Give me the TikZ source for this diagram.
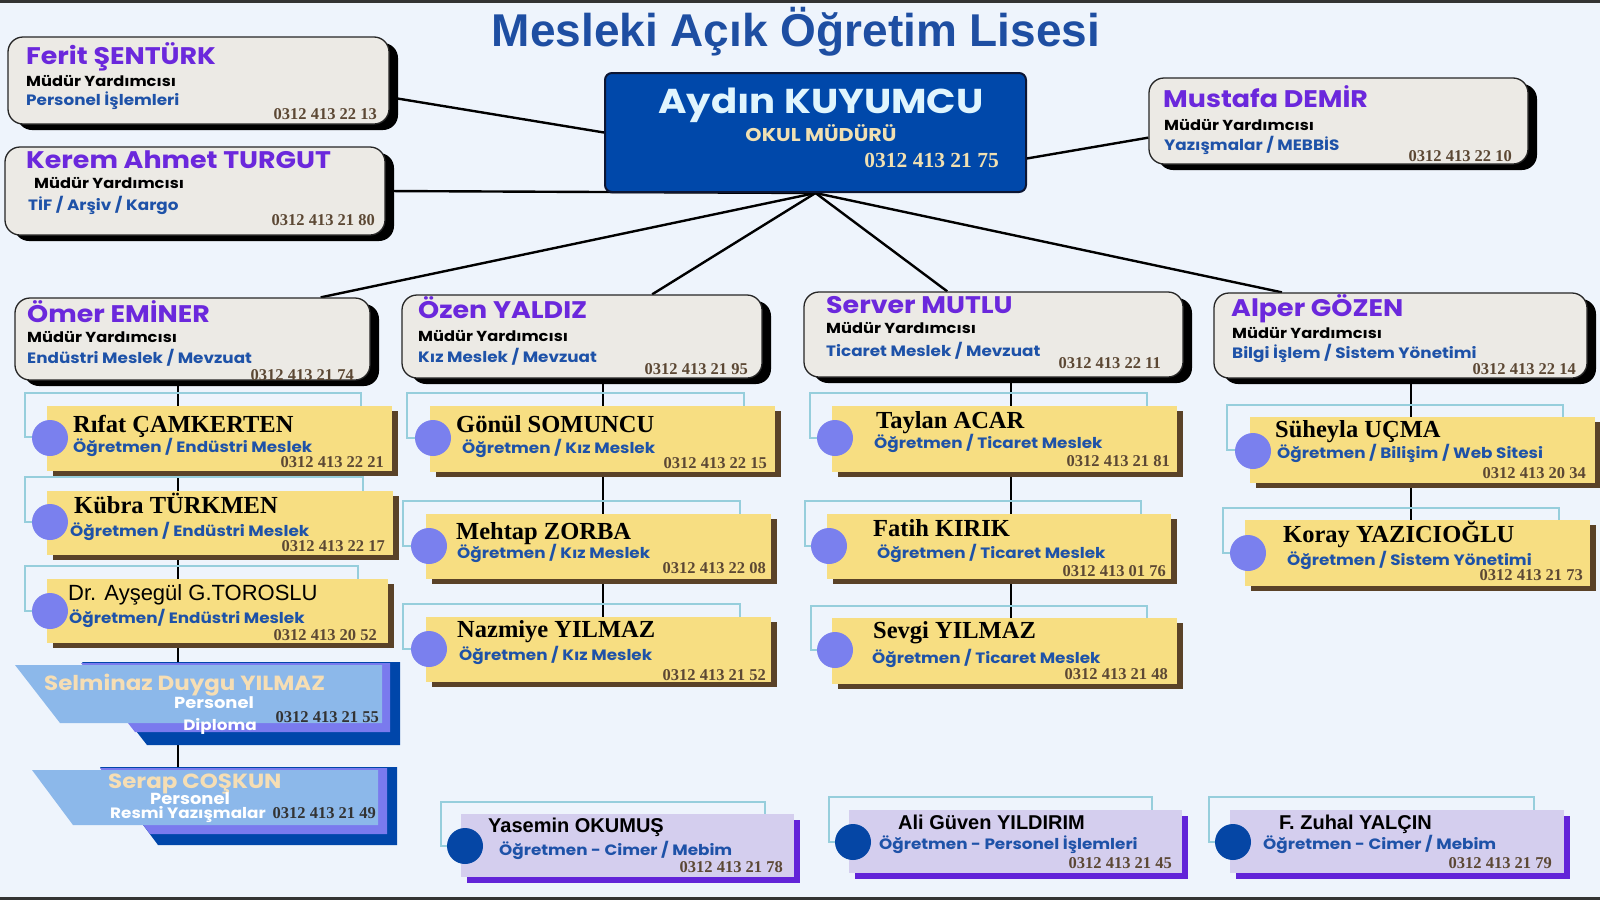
\documentclass[tikz,border=0pt]{standalone}
\usepackage{fontspec}
\setmainfont{Liberation Serif}
\newfontfamily\mont{Poppins}[FakeStretch=1.12]
\newfontfamily\arial{Liberation Sans}
\usetikzlibrary{shadows,calc}
\definecolor{bgblue}{RGB}{238,244,252}
\definecolor{titleblue}{RGB}{30,78,162}
\definecolor{namepurple}{RGB}{107,40,220}
\definecolor{taskblue}{RGB}{30,82,168}
\definecolor{phonebrown}{RGB}{92,72,52}
\definecolor{mgrgray}{RGB}{236,234,229}
\definecolor{principalblue}{RGB}{0,72,170}
\definecolor{principalline}{RGB}{12,22,52}
\definecolor{beige}{RGB}{240,224,178}
\definecolor{teachyellow}{RGB}{247,222,130}
\definecolor{teachshadow}{RGB}{90,66,40}
\definecolor{dotblue}{RGB}{122,128,238}
\definecolor{bracketcyan}{RGB}{150,206,220}
\definecolor{lightsky}{RGB}{140,184,234}
\definecolor{midpurple}{RGB}{122,122,238}
\definecolor{deepblue}{RGB}{0,70,170}
\definecolor{wheat}{RGB}{246,222,180}
\definecolor{lavender}{RGB}{212,206,238}
\definecolor{extrashadow}{RGB}{98,36,216}
\definecolor{darkdot}{RGB}{5,70,165}
\pgfdeclarelayer{back}
\pgfdeclarelayer{bg}
\pgfsetlayers{back,bg,main}

\begin{document}
\begin{tikzpicture}[x=1pt,y=-1pt,
  mgr/.style={draw=black!85, line width=1.3pt, fill=mgrgray, rounded corners=15pt, inner sep=0pt,
    drop shadow={shadow xshift=9pt, shadow yshift=-6pt, fill=black, opacity=1}},
  teach/.style={fill=teachyellow, inner sep=0pt,
    drop shadow={shadow xshift=6pt, shadow yshift=-5pt, fill=teachshadow, opacity=1}},
  extrabox/.style={fill=lavender, inner sep=0pt,
    drop shadow={shadow xshift=6pt, shadow yshift=-6pt, fill=extrashadow, opacity=1}},
  tdot/.style={circle, fill=dotblue, minimum size=36pt, inner sep=0pt},
  edot/.style={circle, fill=darkdot, minimum size=36pt, inner sep=0pt},
  bracket/.style={draw=bracketcyan, line width=1.1pt},
  trunk/.style={draw=black, line width=2.6pt},
  link/.style={draw=black, line width=2.4pt},
  mname/.style={anchor=base west, inner sep=0pt, font=\mont\bfseries\fontsize{24}{24}\selectfont, text=namepurple},
  mrole/.style={anchor=base west, inner sep=0pt, font=\mont\bfseries\fontsize{14.5}{15}\selectfont, text=black},
  mtask/.style={anchor=base west, inner sep=0pt, font=\mont\bfseries\fontsize{15}{15}\selectfont, text=taskblue},
  phone/.style={anchor=base east, inner sep=0pt, font=\bfseries\fontsize{16.5}{17}\selectfont, text=phonebrown},
  tname/.style={anchor=base west, inner sep=0pt, font=\bfseries\fontsize{24.5}{25}\selectfont, text=black},
  sname/.style={anchor=base west, inner sep=0pt, font=\arial\fontsize{22}{22}\selectfont, text=black},
  bname/.style={anchor=base west, inner sep=0pt, font=\arial\bfseries\fontsize{20}{20}\selectfont, text=black},
  staff/.style={inner sep=0pt, font=\mont\bfseries\fontsize{16}{16}\selectfont, text=white}]

  % Page
  \useasboundingbox (0,0) rectangle (1600,900);
  \begin{pgfonlayer}{back}
    \fill[bgblue] (0,0) rectangle (1600,900);
    \fill[black!80] (0,0) rectangle (1600,2.5);
    \fill[black!80] (0,897) rectangle (1600,900);
  \end{pgfonlayer}

  % Title
  \node[anchor=base, inner sep=0pt, font=\arial\bfseries\fontsize{46}{46}\selectfont, text=titleblue] (title) at (796,46) {Mesleki Açık Öğretim Lisesi};

  % Principal
  \node[draw=principalline, line width=2pt, fill=principalblue, rounded corners=7pt, minimum width=421, minimum height=119] (aydin) at (815.5,132.5) {};
  \node[anchor=base, inner sep=0pt, font=\mont\bfseries\fontsize{34.5}{35}\selectfont, text=white!88!cyan] (aydin-n) at (821,113) {Aydın KUYUMCU};
  \node[anchor=base, inner sep=0pt, font=\mont\bfseries\fontsize{18.5}{19}\selectfont, text=beige] (aydin-r) at (821,141) {OKUL MÜDÜRÜ};
  \node[phone, font=\bfseries\fontsize{21.5}{22}\selectfont, text=beige] (aydin-p) at (999,167) {0312 413 21 75};

  % Vice principals
  \node[mgr, minimum width=381, minimum height=87] (ferit) at (198.5,80.5) {};
  \node[mname] (ferit-n) at (26,64) {Ferit ŞENTÜRK};
  \node[mrole] (ferit-r) at (26,86) {Müdür Yardımcısı};
  \node[mtask] (ferit-t) at (26,105) {Personel İşlemleri};
  \node[phone] (ferit-p) at (377,119.5) {0312 413 22 13};

  \node[mgr, minimum width=380, minimum height=88] (kerem) at (195,191) {};
  \node[mname] (kerem-n) at (26,168) {Kerem Ahmet TURGUT};
  \node[mrole] (kerem-r) at (34,188) {Müdür Yardımcısı};
  \node[mtask] (kerem-t) at (28,210) {TİF / Arşiv / Kargo};
  \node[phone] (kerem-p) at (375,225.5) {0312 413 21 80};

  \node[mgr, minimum width=379, minimum height=86] (mustafa) at (1338.5,121) {};
  \node[mname] (mustafa-n) at (1163,107) {Mustafa DEMİR};
  \node[mrole] (mustafa-r) at (1164,130) {Müdür Yardımcısı};
  \node[mtask] (mustafa-t) at (1164,150) {Yazışmalar / MEBBİS};
  \node[phone] (mustafa-p) at (1512,161.5) {0312 413 22 10};

  \node[mgr, minimum width=355, minimum height=82] (omer) at (192.5,339) {};
  \node[mname] (omer-n) at (27,322) {Ömer EMİNER};
  \node[mrole] (omer-r) at (27,342) {Müdür Yardımcısı};
  \node[mtask] (omer-t) at (27,363) {Endüstri Meslek / Mevzuat};
  \node[phone] (omer-p) at (354,380.5) {0312 413 21 74};

  \node[mgr, minimum width=360, minimum height=83] (ozen) at (582,336.5) {};
  \node[mname] (ozen-n) at (418,318) {Özen YALDIZ};
  \node[mrole] (ozen-r) at (418,341) {Müdür Yardımcısı};
  \node[mtask] (ozen-t) at (418,362) {Kız Meslek / Mevzuat};
  \node[phone] (ozen-p) at (748,374.5) {0312 413 21 95};

  \node[mgr, minimum width=379, minimum height=85] (server) at (993.5,334.5) {};
  \node[mname] (server-n) at (826,313) {Server MUTLU};
  \node[mrole] (server-r) at (826,333) {Müdür Yardımcısı};
  \node[mtask] (server-t) at (826,356) {Ticaret Meslek / Mevzuat};
  \node[phone] (server-p) at (1161,368.5) {0312 413 22 11};

  \node[mgr, minimum width=373, minimum height=85] (alper) at (1400.5,335.5) {};
  \node[mname] (alper-n) at (1231,316) {Alper GÖZEN};
  \node[mrole] (alper-r) at (1232,338) {Müdür Yardımcısı};
  \node[mtask] (alper-t) at (1232,358) {Bilgi İşlem / Sistem Yönetimi};
  \node[phone] (alper-p) at (1576,374.5) {0312 413 22 14};

  % Brackets behind the teachers
  \draw[bracket] (25,393) rectangle (361,437);
  \draw[bracket] (25,477) rectangle (363,522);
  \draw[bracket] (25,566) rectangle (358,611);
  \draw[bracket] (407,393) rectangle (744,438);
  \draw[bracket] (403,501) rectangle (740,546);
  \draw[bracket] (403,604) rectangle (740,649);
  \draw[bracket] (810,393) rectangle (1147,438);
  \draw[bracket] (805,501) rectangle (1141,546);
  \draw[bracket] (811,606) rectangle (1147,650);
  \draw[bracket] (1227,405) rectangle (1563,450);
  \draw[bracket] (1223,508) rectangle (1559,553);
  \draw[bracket] (441,802) rectangle (765,846);
  \draw[bracket] (829,797) rectangle (1152,842);
  \draw[bracket] (1209,797) rectangle (1534,842);

  % Endustri column
  \node[teach, minimum width=345, minimum height=65] (rifat) at (219.5,438.5) {};
  \node[tdot] (rifat-d) at (50,438) {};
  \node[tname] (rifat-n) at (73,432) {Rıfat ÇAMKERTEN};
  \node[mtask] (rifat-t) at (73,452) {Öğretmen / Endüstri Meslek};
  \node[phone] (rifat-p) at (384,467.5) {0312 413 22 21};

  \node[teach, minimum width=346, minimum height=64] (kubra) at (220,523) {};
  \node[tdot] (kubra-d) at (50,522) {};
  \node[tname] (kubra-n) at (74,513) {Kübra TÜRKMEN};
  \node[mtask] (kubra-t) at (70,536) {Öğretmen / Endüstri Meslek};
  \node[phone] (kubra-p) at (385,551.5) {0312 413 22 17};

  \node[teach, minimum width=341, minimum height=64] (aysegul) at (217.5,611) {};
  \node[tdot] (aysegul-d) at (50,611) {};
  \node[sname] (aysegul-n) at (68,600) {Dr. Ayşegül G.TOROSLU};
  \node[mtask] (aysegul-t) at (69,623) {Öğretmen/ Endüstri Meslek};
  \node[phone] (aysegul-p) at (377,640.5) {0312 413 20 52};

  % Personel staff
  \fill[deepblue] (82,662) -- (400,662) -- (400,745) -- (147,745) -- cycle;
  \fill[midpurple] (81,663) -- (390,663) -- (390,732) -- (135,732) -- cycle;
  \fill[lightsky] (15,665) -- (382,665) -- (382,723) -- (60,723) -- cycle;
  \node[staff, anchor=base west, font=\mont\bfseries\fontsize{20.5}{21}\selectfont, text=wheat] (selminaz-n) at (44,690.5) {Selminaz Duygu YILMAZ};
  \node[staff, anchor=base] (selminaz-r) at (214,708) {Personel};
  \node[staff, anchor=base, font=\mont\bfseries\fontsize{15}{15}\selectfont] (selminaz-t) at (220,730) {Diploma};
  \node[phone, text=black!80] (selminaz-p) at (379,722.5) {0312 413 21 55};

  \fill[deepblue] (100,767) -- (397,767) -- (397,845) -- (158,845) -- cycle;
  \fill[midpurple] (100,768) -- (387,768) -- (387,834) -- (150,834) -- cycle;
  \fill[lightsky] (32,770) -- (378,770) -- (378,825) -- (73,825) -- cycle;
  \coordinate (serap) at (178,770);
  \node[staff, anchor=base west, font=\mont\bfseries\fontsize{20.5}{21}\selectfont, text=wheat] (serap-n) at (108,788) {Serap COŞKUN};
  \node[staff, anchor=base] (serap-r) at (190,804.5) {Personel};
  \node[staff, anchor=base west, font=\mont\bfseries\fontsize{15}{15}\selectfont] (serap-t) at (110,818.5) {Resmi Yazışmalar};
  \node[phone, text=black!80] (serap-p) at (376,818.5) {0312 413 21 49};

  % Kiz column
  \node[teach, minimum width=345, minimum height=66] (gonul) at (602.5,439) {};
  \node[tdot] (gonul-d) at (433,438) {};
  \node[tname] (gonul-n) at (456,432) {Gönül SOMUNCU};
  \node[mtask] (gonul-t) at (462,453) {Öğretmen / Kız Meslek};
  \node[phone] (gonul-p) at (767,468.5) {0312 413 22 15};

  \node[teach, minimum width=345, minimum height=65] (mehtap) at (598.5,546.5) {};
  \node[tdot] (mehtap-d) at (429,546) {};
  \node[tname] (mehtap-n) at (456,539) {Mehtap ZORBA};
  \node[mtask] (mehtap-t) at (457,558) {Öğretmen / Kız Meslek};
  \node[phone] (mehtap-p) at (766,573.5) {0312 413 22 08};

  \node[teach, minimum width=345, minimum height=65] (nazmiye) at (598.5,649.5) {};
  \node[tdot] (nazmiye-d) at (429,649) {};
  \node[tname] (nazmiye-n) at (457,637) {Nazmiye YILMAZ};
  \node[mtask] (nazmiye-t) at (459,660) {Öğretmen / Kız Meslek};
  \node[phone] (nazmiye-p) at (766,680.5) {0312 413 21 52};

  % Ticaret column
  \node[teach, minimum width=345, minimum height=66] (taylan) at (1004.5,439) {};
  \node[tdot] (taylan-d) at (835,438) {};
  \node[tname] (taylan-n) at (876,428) {Taylan ACAR};
  \node[mtask] (taylan-t) at (874,448) {Öğretmen / Ticaret Meslek};
  \node[phone] (taylan-p) at (1170,466.5) {0312 413 21 81};

  \node[teach, minimum width=344, minimum height=65] (fatih) at (999,546.5) {};
  \node[tdot] (fatih-d) at (829,546) {};
  \node[tname] (fatih-n) at (873,536) {Fatih KIRIK};
  \node[mtask] (fatih-t) at (877,558) {Öğretmen / Ticaret Meslek};
  \node[phone] (fatih-p) at (1166,576.5) {0312 413 01 76};

  \node[teach, minimum width=345, minimum height=66] (sevgi) at (1004.5,651) {};
  \node[tdot] (sevgi-d) at (835,650) {};
  \node[tname] (sevgi-n) at (873,638) {Sevgi YILMAZ};
  \node[mtask] (sevgi-t) at (872,663) {Öğretmen / Ticaret Meslek};
  \node[phone] (sevgi-p) at (1168,679.5) {0312 413 21 48};

  % Bilisim column
  \node[teach, minimum width=345, minimum height=66] (suheyla) at (1422.5,450) {};
  \node[tdot] (suheyla-d) at (1253,451) {};
  \node[tname] (suheyla-n) at (1275,437) {Süheyla UÇMA};
  \node[mtask] (suheyla-t) at (1277,458) {Öğretmen / Bilişim / Web Sitesi};
  \node[phone] (suheyla-p) at (1586,478.5) {0312 413 20 34};

  \node[teach, minimum width=345, minimum height=66] (koray) at (1417.5,553) {};
  \node[tdot] (koray-d) at (1248,553) {};
  \node[tname] (koray-n) at (1283,542) {Koray YAZICIOĞLU};
  \node[mtask] (koray-t) at (1287,565) {Öğretmen / Sistem Yönetimi};
  \node[phone] (koray-p) at (1583,580.5) {0312 413 21 73};

  % Bottom row
  \node[extrabox, minimum width=333, minimum height=63] (yasemin) at (627.5,845.5) {};
  \node[edot] (yasemin-d) at (465,846) {};
  \node[bname] (yasemin-n) at (488,832) {Yasemin OKUMUŞ};
  \node[mtask] (yasemin-t) at (499,855) {Öğretmen - Cimer / Mebim};
  \node[phone] (yasemin-p) at (783,872.5) {0312 413 21 78};

  \node[extrabox, minimum width=333, minimum height=63] (ali) at (1015.5,841.5) {};
  \node[edot] (ali-d) at (853,842) {};
  \node[bname] (ali-n) at (898,829) {Ali Güven YILDIRIM};
  \node[mtask] (ali-t) at (879,849) {Öğretmen - Personel İşlemleri};
  \node[phone] (ali-p) at (1172,868.5) {0312 413 21 45};

  \node[extrabox, minimum width=334, minimum height=63] (zuhal) at (1397,841.5) {};
  \node[edot] (zuhal-d) at (1233,842) {};
  \node[bname] (zuhal-n) at (1279,829) {F. Zuhal YALÇIN};
  \node[mtask] (zuhal-t) at (1263,849) {Öğretmen - Cimer / Mebim};
  \node[phone] (zuhal-p) at (1552,868.5) {0312 413 21 79};

  % Connectors
  \coordinate (c1) at (178,0);
  \coordinate (c2) at (603,0);
  \coordinate (c3) at (1011,0);
  \coordinate (c4) at (1411,0);
  \begin{pgfonlayer}{bg}
    \draw[link] (ferit.-5) -- (aydin.west);
    \draw[link] (kerem.east) -- (aydin.south);
    \draw[link] (aydin.-7) -- (mustafa.185);
    \draw[link] (aydin.south) -- (omer.18);
    \draw[link] (aydin.south) -- (ozen.31);
    \draw[link] (aydin.south) -- (server.137);
    \draw[link] (aydin.south) -- (alper.160.6);
    \draw[trunk] (omer.south -| c1) -- (serap);
    \draw[trunk] (ozen.south -| c2) -- (nazmiye.north -| c2);
    \draw[trunk] (server.south -| c3) -- (sevgi.north -| c3);
    \draw[trunk] (alper.south -| c4) -- (koray.north -| c4);
  \end{pgfonlayer}
\end{tikzpicture}
\end{document}
